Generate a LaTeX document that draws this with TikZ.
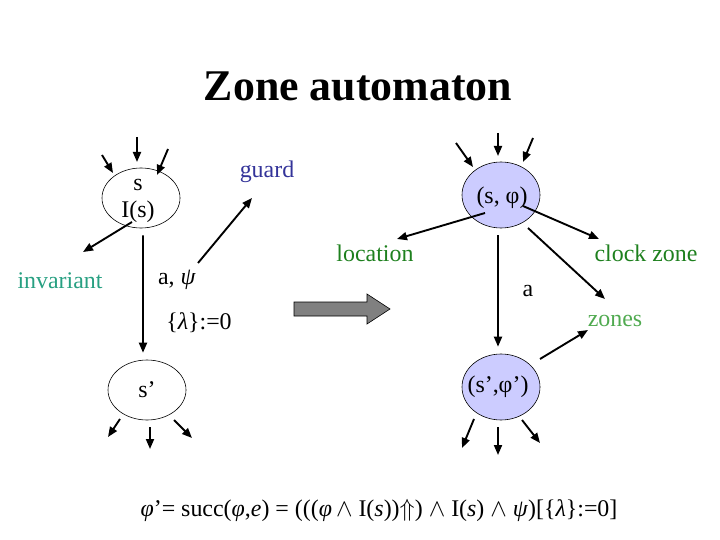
\documentclass[tikz,border=0pt]{standalone}
\usepackage{fontspec}
\setmainfont{Liberation Serif}
\usetikzlibrary{arrows.meta,shapes.geometric}
\definecolor{GuardClr}{RGB}{51,51,153}
\definecolor{InvClr}{RGB}{40,160,130}
\definecolor{LocClr}{RGB}{30,128,30}
\definecolor{ZonesClr}{RGB}{80,170,80}
\definecolor{StateClr}{RGB}{204,204,255}
\definecolor{BigArrClr}{RGB}{128,128,128}

\tikzset{
  state/.style={ellipse,draw,line width=0.6pt,minimum width=78bp,minimum height=60bp,inner sep=0pt},
  zstate/.style={state,fill=StateClr,minimum height=66bp},
  txt/.style={inner sep=0pt,font=\fontsize{24}{28}\selectfont},
  link/.style={line width=1.9pt,-{Triangle[length=10bp,width=8bp]}}
}

\begin{document}
\begin{tikzpicture}[x=1bp,y=-1bp]
\useasboundingbox (0,0) rectangle (720,540);

\node[font=\fontsize{44}{50}\selectfont\bfseries] (title) at (358,86) {Zone automaton};

% left: timed automaton
\node[state] (s) at (141,198) {};
\node[state] (sp) at (147,390) {};
\node[txt] (sTxt) at (138,185) {s};
\node[txt] (sI) at (138,212) {I(s)};
\node[txt] (spTxt) at (147,390) {s’};
\node[txt,text=InvClr] (inv) at (60,281) {invariant};
\node[txt,text=GuardClr] (guard) at (267,172) {guard};
\node[txt] (lblA) at (177,280) {a, \textit{ψ}};
\node[txt] (lblReset) at (199,323) {\{\textit{λ}\}:=0};

% right: zone automaton
\node[zstate] (z) at (501,195) {};
\node[zstate] (zp) at (501,387) {};
\node[txt] (zTxt) at (502,198) {(s, φ)};
\node[txt] (zpTxt) at (498,387) {(s’,φ’)};
\node[txt,text=LocClr] (loc) at (375,253) {location};
\node[txt,text=LocClr] (clock) at (646,253) {clock zone};
\node[txt,text=ZonesClr] (zones) at (615,321) {zones};
\node[txt] (lblEvt) at (528,291) {a};

% stubs
\foreach \st/\ax/\ay/\bx/\by in {s/-39/-43/-28/-25, s/-4/-61/-4/-36, s/27/-49/16/-23,
    sp/-27/29/-39/47, sp/3/37/3/59, sp/27/30/45/48,
    z/-45/-52/-28/-28, z/-3/-62/-3/-39, z/32/-57/22/-33,
    zp/-27/32/-39/61, zp/-3/40/-3/68, zp/21/33/39/56}
  \draw[link] ([shift={(\ax,\ay)}]\st.center) -- ([shift={(\bx,\by)}]\st.center);

\draw[link] ([xshift=2bp,yshift=-7bp]s.south) -- ([xshift=-4bp,yshift=7bp]sp.north);
\draw[link] ([xshift=-3bp,yshift=-7bp]z.south) -- ([xshift=-3bp,yshift=7bp]zp.north);

\draw[link] ([shift={(-6,10)}]sI.center) -- ([shift={(23,-29)}]inv.center);
\draw[link] ([shift={(21,-17)}]lblA.center) -- ([shift={(-15,26)}]guard.center);
\draw[link] ([shift={(-16,18)}]z.center) -- ([shift={(22,-14)}]loc.center);
\draw[link] ([shift={(22,11)}]z.center) -- ([shift={(-47,-14)}]clock.center);
\draw[link] ([shift={(27,33)}]z.center) -- ([shift={(-10,-22)}]zones.center);
\draw[link] ([shift={(39,-28)}]zp.center) -- ([shift={(-27,9)}]zones.center);

% big arrow
\draw[fill=BigArrClr,line width=0.6pt] (294,302) -- (367,302) -- (367,294) -- (390,309)
  -- (367,324) -- (367,316) -- (294,316) -- cycle;

\node[txt] (succ) at (379,510) {\textit{φ}’= succ(\textit{φ},\textit{e}) = (((\textit{φ}\,$\wedge$ I(\textit{s}))$\Uparrow$) $\wedge$ I(\textit{s}) $\wedge$ \textit{ψ})[\{\textit{λ}\}:=0]};
\end{tikzpicture}
\end{document}
